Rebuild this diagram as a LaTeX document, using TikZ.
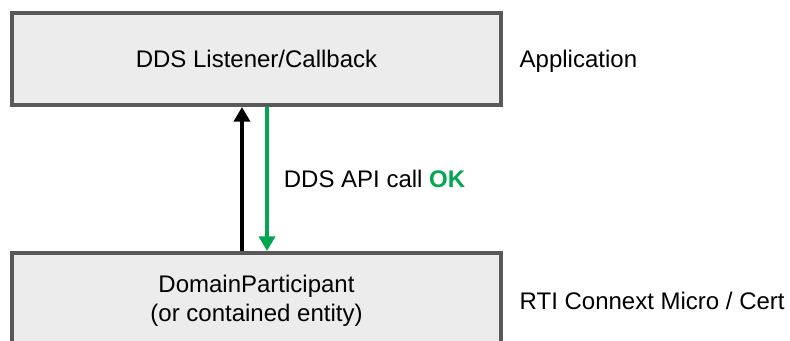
\documentclass[tikz,border=0pt]{standalone}
\usepackage{fontspec}
\setmainfont{Liberation Sans}
\usetikzlibrary{positioning, arrows.meta}

\definecolor{boxgray}{RGB}{89,89,89}
\definecolor{boxfill}{RGB}{236,236,236}
\definecolor{okgreen}{RGB}{0,166,80}

\begin{document}
\begin{tikzpicture}[x = {(0.75pt,0pt)},
                    y = {(0pt,-0.75pt)},
                    font = \fontsize{18}{21.75}\selectfont,
                    layer/.style = {draw=boxgray, fill=boxfill, line width=3pt,
                                    minimum width=366.75pt, align=center},
                    call/.style = {line width=3pt, -{Triangle[length=11pt, width=12pt]}}]

    \def\off{10.9pt}

    \clip (0,0) rectangle (790,341);

    % the two layers
    \node[layer, minimum height=69pt] (listener) at (256.5,59) {DDS Listener/Callback};
    \node[layer, minimum height=72pt] (participant) at (256.5,301) {DomainParticipant\\(or contained entity)};

    \node[right=9pt of listener, yshift=-2pt] (app) {Application};
    \node[right=9pt of participant] (rti) {RTI Connext Micro / Cert};

    % callback up, return down
    \draw[call] ([xshift=-\off]participant.north) -- ([xshift=-\off]listener.south);
    \draw[call, okgreen, line width=2.6pt] ([xshift=7.9pt]listener.south) -- ([xshift=7.9pt]participant.north)
        node[midway, right=8pt, text=black] (ret) {DDS API call \textcolor{okgreen}{\bfseries OK}};
\end{tikzpicture}
\end{document}
